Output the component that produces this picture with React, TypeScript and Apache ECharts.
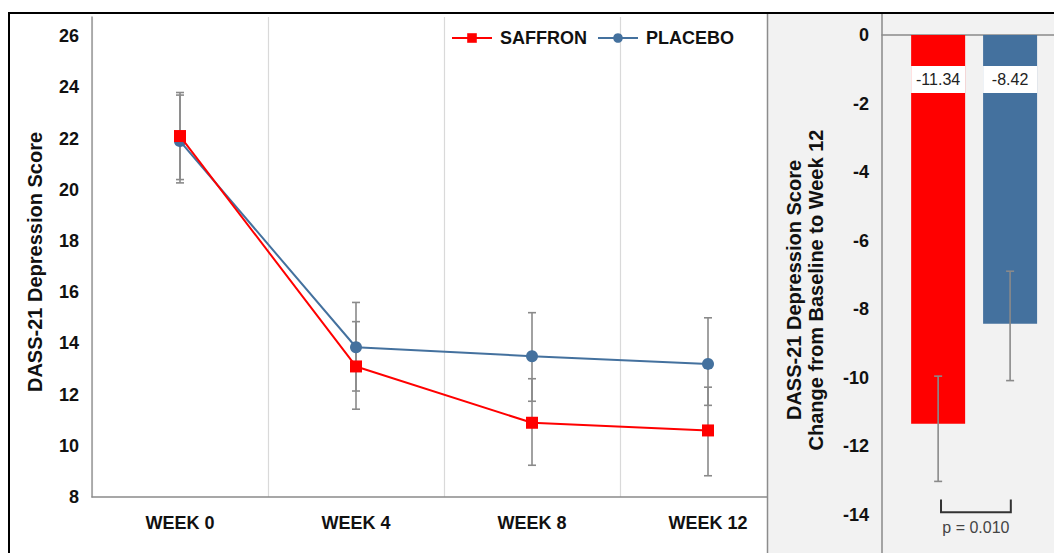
import React, { useEffect, useRef } from 'react';
import * as echarts from 'echarts';

const weeks = ['WEEK 0', 'WEEK 4', 'WEEK 8', 'WEEK 12'];
const saffronMean = [22.1, 13.1, 10.9, 10.6];
const saffronLow = [20.4, 11.43, 9.24, 8.83];
const saffronHigh = [23.8, 14.85, 12.62, 12.29];
const placeboMean = [21.9, 13.85, 13.5, 13.2];
const placeboLow = [20.27, 12.14, 11.74, 11.58];
const placeboHigh = [23.7, 15.6, 15.2, 15.0];

const groups = ['SAFFRON', 'PLACEBO'];
const changeMean = [-11.34, -8.42];
const changeLow = [-13.02, -10.08];
const changeHigh = [-9.95, -6.89];
const bracketFrom = 0;
const bracketTo = 1;
const bracketTop = -13.55;
const bracketBottom = -13.92;
const pValueLabel = 'p = 0.010';

const RED = '#ff0000';
const BLUE = '#44719e';
const FONT = 'Liberation Sans';

function errorRender(hw: number) {
  return (params: any, api: any) => {
    const x = api.value(0);
    const lo = api.value(1);
    const hi = api.value(2);
    const pLo = api.coord([x, lo]);
    const pHi = api.coord([x, hi]);
    const style = { stroke: '#8a8a8a', lineWidth: 1.6 };
    return {
      type: 'group',
      children: [
        { type: 'line', shape: { x1: pLo[0], y1: pLo[1], x2: pHi[0], y2: pHi[1] }, style },
        { type: 'line', shape: { x1: pLo[0] - hw, y1: pLo[1], x2: pLo[0] + hw, y2: pLo[1] }, style },
        { type: 'line', shape: { x1: pHi[0] - hw, y1: pHi[1], x2: pHi[0] + hw, y2: pHi[1] }, style },
      ],
    };
  };
}

export default function App() {
  const ref = useRef<HTMLDivElement>(null);
  useEffect(() => {
    if (!ref.current) return;
    const chart = echarts.init(ref.current, undefined, { renderer: 'svg' });
    const option: any = {
      animation: false,
      backgroundColor: '#ffffff',
      textStyle: { fontFamily: FONT },
      legend: {
        data: ['SAFFRON', 'PLACEBO'],
        left: 446,
        top: 24,
        itemWidth: 40,
        itemHeight: 12,
        itemGap: 10,
        textStyle: { fontSize: 18, fontWeight: 'bold', color: '#111', fontFamily: FONT, padding: [0, 0, 0, 3] },
      },
      grid: [
        { left: 92, right: 258, top: 17, bottom: 56 },
        { left: 882, right: 0, top: 35, bottom: 38 },
      ],
      xAxis: [
        {
          type: 'category',
          gridIndex: 0,
          data: weeks,
          boundaryGap: true,
          axisLine: { lineStyle: { color: '#8a8a8a', width: 1.5 } },
          axisTick: { show: false },
          axisLabel: { fontSize: 18, fontWeight: 'bold', color: '#111', margin: 17, fontFamily: FONT },
          splitLine: { show: true, lineStyle: { color: '#d9d9d9', width: 1.2 } },
        },
        {
          type: 'value',
          gridIndex: 1,
          min: -0.78,
          max: 1.61,
          z: 3,
          axisLine: { onZero: true, lineStyle: { color: '#8a8a8a', width: 1.5 } },
          axisTick: { show: false },
          axisLabel: { show: false },
          splitLine: { show: false },
        },
      ],
      yAxis: [
        {
          type: 'value',
          gridIndex: 0,
          min: 8,
          max: 26.75,
          interval: 2,
          name: 'DASS-21 Depression Score',
          nameLocation: 'middle',
          nameGap: 47,
          nameTextStyle: { fontSize: 20, fontWeight: 'bold', color: '#111', fontFamily: FONT, padding: [0, 10, 0, 0] },
          axisLine: { show: true, lineStyle: { color: '#999', width: 1.5 } },
          axisTick: { show: false },
          splitLine: { show: false },
          axisLabel: {
            fontSize: 18,
            fontWeight: 'bold',
            color: '#111',
            margin: 13,
            fontFamily: FONT,
            formatter: (v: number) => (v % 2 === 0 ? String(v) : ''),
          },
        },
        {
          type: 'value',
          gridIndex: 1,
          min: -14,
          max: 0,
          interval: 2,
          z: 3,
          name: 'DASS-21 Depression Score\nChange from Baseline to Week 12',
          nameLocation: 'middle',
          nameGap: 55,
          nameTextStyle: { fontSize: 20, fontWeight: 'bold', color: '#111', fontFamily: FONT, lineHeight: 22, padding: [0, 30, 0, 0] },
          axisLine: { show: false },
          axisTick: { show: false },
          splitLine: { show: false },
          axisLabel: {
            fontSize: 18,
            fontWeight: 'bold',
            color: '#111',
            margin: 13,
            fontFamily: FONT,
          },
        },
      ],
      series: [
        {
          name: 'SAFFRON SD',
          type: 'custom',
          xAxisIndex: 0,
          yAxisIndex: 0,
          z: 2,
          renderItem: errorRender(4),
          encode: { x: 0, y: [1, 2] },
          data: weeks.map((_, i) => [i, saffronLow[i], saffronHigh[i]]),
        },
        {
          name: 'PLACEBO SD',
          type: 'custom',
          xAxisIndex: 0,
          yAxisIndex: 0,
          z: 2,
          renderItem: errorRender(4),
          encode: { x: 0, y: [1, 2] },
          data: weeks.map((_, i) => [i, placeboLow[i], placeboHigh[i]]),
        },
        {
          name: 'PLACEBO',
          type: 'line',
          xAxisIndex: 0,
          yAxisIndex: 0,
          z: 3,
          data: placeboMean,
          symbol: 'circle',
          symbolSize: 12,
          lineStyle: { color: BLUE, width: 2 },
          itemStyle: { color: BLUE },
        },
        {
          name: 'SAFFRON',
          type: 'line',
          xAxisIndex: 0,
          yAxisIndex: 0,
          z: 4,
          data: saffronMean,
          symbol: 'rect',
          symbolSize: 12,
          lineStyle: { color: RED, width: 2 },
          itemStyle: { color: RED },
        },
        {
          name: 'Change',
          type: 'bar',
          xAxisIndex: 1,
          yAxisIndex: 1,
          z: 3,
          barWidth: 54,
          data: groups.map((g, i) => ({
            name: g,
            value: [i, changeMean[i]],
            itemStyle: { color: i === 0 ? RED : BLUE },
          })),
          label: {
            show: true,
            position: 'insideTop',
            distance: 31,
            formatter: (p: any) => p.value[1].toFixed(2),
            backgroundColor: '#ffffff',
            color: '#222',
            fontSize: 16,
            fontFamily: FONT,
            width: 54,
            height: 27,
            lineHeight: 27,
            align: 'center',
            padding: 0,
          },
        },
        {
          name: 'Change SD',
          type: 'custom',
          xAxisIndex: 1,
          yAxisIndex: 1,
          z: 4,
          renderItem: errorRender(4),
          encode: { x: 0, y: [1, 2] },
          data: groups.map((_, i) => [i, changeLow[i], changeHigh[i]]),
        },
        {
          name: 'Significance',
          type: 'custom',
          xAxisIndex: 1,
          yAxisIndex: 1,
          z: 4,
          renderItem: (params: any, api: any) => {
            const a = api.value(0);
            const b = api.value(1);
            const t = api.value(2);
            const bt = api.value(3);
            const p1 = api.coord([a, t]);
            const p2 = api.coord([a, bt]);
            const p3 = api.coord([b, bt]);
            const p4 = api.coord([b, t]);
            return {
              type: 'group',
              children: [
                {
                  type: 'polyline',
                  shape: { points: [p1, p2, p3, p4] },
                  style: { stroke: '#333', lineWidth: 2, fill: 'none' },
                },
                {
                  type: 'text',
                  x: (p2[0] + p3[0]) / 2,
                  y: p2[1] + 15,
                  style: {
                    text: pValueLabel,
                    fill: '#444',
                    font: `16px "${FONT}"`,
                    align: 'center',
                    verticalAlign: 'middle',
                  },
                },
              ],
            };
          },
          encode: { x: [0, 1], y: [2, 3] },
          data: [[bracketFrom + 0.04, bracketTo + 0.01, bracketTop, bracketBottom]],
        },
      ],
      graphic: [
        {
          type: 'rect',
          z: 1,
          shape: { x: 767, y: 14, width: 287, height: 539 },
          style: { fill: '#f2f2f2' },
        },
        {
          type: 'line',
          z: 1,
          shape: { x1: 767.5, y1: 14, x2: 767.5, y2: 553 },
          style: { stroke: '#8c8c8c', lineWidth: 1.5 },
        },
        {
          type: 'line',
          z: 1,
          shape: { x1: 882, y1: 14, x2: 882, y2: 553 },
          style: { stroke: '#8a8a8a', lineWidth: 1.5 },
        },
        {
          type: 'line',
          z: 10,
          shape: { x1: 8, y1: 13, x2: 1054, y2: 13 },
          style: { stroke: '#000', lineWidth: 2 },
        },
        {
          type: 'line',
          z: 10,
          shape: { x1: 9, y1: 12, x2: 9, y2: 553 },
          style: { stroke: '#000', lineWidth: 2 },
        },
      ],
    };
    chart.setOption(option);
    return () => chart.dispose();
  }, []);
  return (
    <div
      ref={ref}
      style={{ position: 'absolute', left: 0, top: 0, width: 1054, height: 553, background: '#fff' }}
    />
  );
}
